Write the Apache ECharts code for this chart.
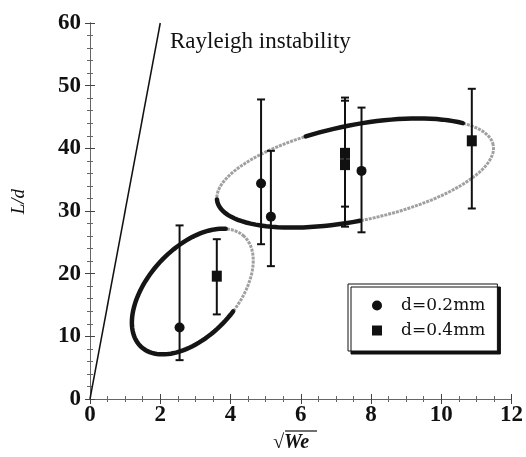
<!DOCTYPE html>
<html>
<head>
<meta charset="utf-8">
<script src="https://cdn.jsdelivr.net/npm/echarts@6/dist/echarts.min.js"></script>
<style>
  html, body { margin: 0; padding: 0; background: #fff; }
  #chart { width: 526px; height: 457px; }
</style>
</head>
<body>
<div id="chart"></div>
<script>
// [sqrt(We), L/d, lower, upper]
const d02 = [
  [2.55, 11.4, 6.2, 27.7],
  [4.87, 34.4, 24.7, 47.8],
  [5.15, 29.1, 21.2, 39.6],
  [7.73, 36.4, 26.6, 46.5]
]
const d04 = [
  [3.61, 19.6, 13.5, 25.5],
  [7.26, 39.2, 30.7, 48.1],
  [7.26, 37.4, 27.5, 47.6],
  [10.87, 41.2, 30.4, 49.5]
]
const rayleigh = [[0, 0], [2, 60]]
const xTicks = [0, 2, 4, 6, 8, 10, 12]
const yTicks = [0, 10, 20, 30, 40, 50, 60]

// hand drawn loops: centre x, centre y, semi axes (x units), tilt in deg
const loops = [
  [2.92, 17.15, 2.15, 1.25, 47],
  [7.55, 36.06, 4.01, 1.36, 11.5]
]
// darker stretches of each loop, in ellipse parameter degrees
const darkArcs = [
  [[25, 282]],
  [[35, 108], [178, 268]]
]

const serif = 'Liberation Serif'

function errorBar (params, api) {
  const x = api.value(0)
  const lo = api.coord([x, api.value(2)])
  const hi = api.coord([x, api.value(3)])
  const w = 4
  const st = { stroke: '#111', lineWidth: 2 }
  return {
    type: 'group',
    children: [
      { type: 'line', shape: { x1: lo[0], y1: lo[1], x2: hi[0], y2: hi[1] }, style: st },
      { type: 'line', shape: { x1: lo[0] - w, y1: lo[1], x2: lo[0] + w, y2: lo[1] }, style: st },
      { type: 'line', shape: { x1: hi[0] - w, y1: hi[1], x2: hi[0] + w, y2: hi[1] }, style: st }
    ]
  }
}

function loop (params, api) {
  const c = api.coord([api.value(0), api.value(1)])
  const unit = api.size([1, 0])[0]
  const a = api.value(2) * unit
  const b = api.value(3) * unit
  const th = api.value(4) * Math.PI / 180
  const pt = t => {
    const r = t * Math.PI / 180
    const X = a * Math.cos(r)
    const Y = b * Math.sin(r)
    return [c[0] + X * Math.cos(th) - Y * Math.sin(th), c[1] - (X * Math.sin(th) + Y * Math.cos(th))]
  }
  const arc = (t0, t1) => {
    const p = []
    for (let t = t0; t <= t1; t += 3) p.push(pt(t))
    return p
  }
  const children = [{
    type: 'polyline',
    shape: { points: arc(0, 363) },
    style: { fill: null, stroke: '#a0a0a0', lineWidth: 3, lineDash: [3, 1] }
  }]
  darkArcs[params.dataIndex].forEach(s => {
    children.push({
      type: 'polyline',
      shape: { points: arc(s[0], s[1]) },
      style: { fill: null, stroke: '#151515', lineWidth: 4.5, lineCap: 'round' }
    })
  })
  return { type: 'group', children: children }
}

const chart = echarts.init(document.getElementById('chart'))

const frame = { show: true, lineStyle: { color: '#666', width: 1 } }
const tick = { show: true, inside: true, length: 5, lineStyle: { color: '#444' } }
const minor = { show: true, length: 3, lineStyle: { color: '#666' } }

chart.setOption({
  animation: false,
  textStyle: { fontFamily: serif },
  grid: { left: 90, right: 13, top: 23, bottom: 58 },
  xAxis: [
    {
      type: 'value', min: xTicks[0], max: xTicks[xTicks.length - 1], interval: 2,
      axisLine: frame, axisTick: tick, minorTick: Object.assign({ splitNumber: 4 }, minor),
      splitLine: { show: false },
      axisLabel: {
        margin: 5,
        formatter: v => '{t|' + v + '}',
        rich: { t: { fontFamily: serif, fontWeight: 'bold', fontSize: 23, color: '#111' } }
      }
    },
    {
      type: 'value', position: 'top', min: xTicks[0], max: xTicks[xTicks.length - 1], interval: 2,
      axisLine: frame, axisTick: tick, minorTick: Object.assign({ splitNumber: 4 }, minor),
      splitLine: { show: false }, axisLabel: { show: false }
    }
  ],
  yAxis: [
    {
      type: 'value', min: yTicks[0], max: yTicks[yTicks.length - 1], interval: 10,
      axisLine: frame, axisTick: tick, minorTick: Object.assign({ splitNumber: 5 }, minor),
      splitLine: { show: false },
      axisLabel: {
        margin: 9,
        formatter: v => '{t|' + v + '}',
        rich: { t: { fontFamily: serif, fontWeight: 'bold', fontSize: 23, color: '#111' } }
      }
    },
    {
      type: 'value', position: 'right', min: yTicks[0], max: yTicks[yTicks.length - 1], interval: 10,
      axisLine: frame, axisTick: tick, minorTick: Object.assign({ splitNumber: 5 }, minor),
      splitLine: { show: false }, axisLabel: { show: false }
    }
  ],
  legend: {
    data: ['d=0.2mm', 'd=0.4mm'],
    orient: 'vertical',
    left: 348,
    top: 284,
    padding: [13, 12, 12, 24],
    itemGap: 8,
    itemWidth: 10,
    itemHeight: 10,
    backgroundColor: '#fff',
    borderColor: '#111',
    borderWidth: 1,
    shadowColor: '#111',
    shadowBlur: 0,
    shadowOffsetX: 3,
    shadowOffsetY: 3,
    textStyle: { fontFamily: 'DejaVu Serif', fontSize: 17, color: '#111', padding: [0, 0, 0, 14] }
  },
  graphic: [
    {
      type: 'text', left: 170, top: 30,
      style: { text: 'Rayleigh instability', font: '23px "Liberation Serif"', fill: '#111' }
    },
    {
      type: 'text', left: 9, top: 189, rotation: Math.PI / 2,
      style: { text: 'L/d', font: 'italic 19px "Liberation Serif"', fill: '#111' }
    },
    {
      type: 'text', left: 273, top: 433,
      style: { text: '\u221AWe', font: 'italic bold 20px "Liberation Serif"', fill: '#111' }
    },
    {
      type: 'line', shape: { x1: 285, y1: 431, x2: 317, y2: 431 },
      style: { stroke: '#111', lineWidth: 1.2 }
    }
  ],
  series: [
    {
      name: 'loops', type: 'custom', renderItem: loop, data: loops, z: 1,
      encode: { x: 0, y: 1 }, silent: true
    },
    {
      name: 'rayleigh', type: 'line', data: rayleigh, symbol: 'none', z: 2,
      lineStyle: { color: '#111', width: 1.5 }
    },
    {
      name: 'err02', type: 'custom', renderItem: errorBar, data: d02, z: 3,
      encode: { x: 0, y: [1, 2, 3] }
    },
    {
      name: 'err04', type: 'custom', renderItem: errorBar, data: d04, z: 3,
      encode: { x: 0, y: [1, 2, 3] }
    },
    {
      name: 'd=0.2mm', type: 'scatter', symbol: 'circle', symbolSize: 10, z: 4,
      data: d02.map(p => [p[0], p[1]]), itemStyle: { color: '#111', opacity: 1 }
    },
    {
      name: 'd=0.4mm', type: 'scatter', symbol: 'rect', symbolSize: [10, 11], z: 4,
      data: d04.map(p => [p[0], p[1]]), itemStyle: { color: '#111', opacity: 1 }
    }
  ]
})
</script>
</body>
</html>
